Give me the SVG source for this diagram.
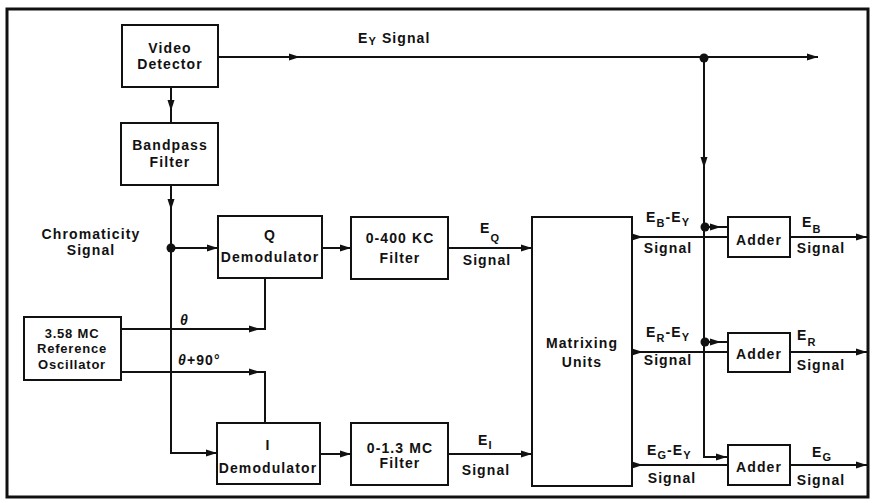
<svg xmlns="http://www.w3.org/2000/svg" width="872" height="503" viewBox="0 0 872 503">
<defs>
<style>
.t{font-family:"Liberation Sans",Arial,sans-serif;font-weight:bold;font-size:14px;letter-spacing:1.1px;fill:#111;text-anchor:middle}
.l{text-anchor:start}
.s{font-size:13px;letter-spacing:0.8px}
.box{fill:#fff;stroke:#111;stroke-width:2}
.c path{fill:none;stroke:#111;stroke-width:2}
.sub{font-size:11px}
</style>
<marker id="a" markerWidth="11" markerHeight="8" refX="11" refY="4" orient="auto" markerUnits="userSpaceOnUse"><path d="M0,0.5 L11,4 L0,7.5 z" fill="#111"/></marker>
</defs>
<rect x="0" y="0" width="872" height="503" fill="#fff"/>
<rect x="7" y="9" width="861" height="488" fill="none" stroke="#111" stroke-width="3"/>

<g class="c" id="connectors">
<path d="M218 57 H300" marker-end="url(#a)"/>
<path d="M300 57 H818" marker-end="url(#a)"/>
<path d="M704 58 V168" marker-end="url(#a)"/>
<path d="M704 168 V457 H727" marker-end="url(#a)"/>
<path d="M171 87 V111" marker-end="url(#a)"/>
<path d="M171 111 V123"/>
<path d="M171 185 V210" marker-end="url(#a)"/>
<path d="M171 210 V453 H217" marker-end="url(#a)"/>
<path d="M171 248 H218" marker-end="url(#a)"/>
<path d="M121 329 H260" marker-end="url(#a)"/>
<path d="M260 329 H265 V278"/>
<path d="M121 372 H260" marker-end="url(#a)"/>
<path d="M260 372 H265 V423"/>
<path d="M322 248 H351" marker-end="url(#a)"/>
<path d="M320 454 H351" marker-end="url(#a)"/>
<path d="M448 248 H532" marker-end="url(#a)"/>
<path d="M448 454 H532" marker-end="url(#a)"/>
<path d="M632 237 H643" marker-end="url(#a)"/>
<path d="M643 237 H728"/>
<path d="M632 352 H643" marker-end="url(#a)"/>
<path d="M643 352 H728"/>
<path d="M632 465 H643" marker-end="url(#a)"/>
<path d="M643 465 H728"/>
<path d="M704 227 H721" marker-end="url(#a)"/>
<path d="M721 227 H728"/>
<path d="M704 342 H721" marker-end="url(#a)"/>
<path d="M721 342 H728"/>
<path d="M790 237 H867" marker-end="url(#a)"/>
<path d="M790 352 H867" marker-end="url(#a)"/>
<path d="M790 465 H867" marker-end="url(#a)"/>
<circle cx="704" cy="58" r="4.5" fill="#111"/>
<circle cx="171" cy="248" r="4.5" fill="#111"/>
<circle cx="705" cy="227" r="4.5" fill="#111"/>
<circle cx="705" cy="342" r="4.5" fill="#111"/>
</g>

<g id="video-detector">
<rect class="box" x="122" y="25" width="96" height="62"/>
<text class="t" x="170" y="53">Video</text>
<text class="t" x="170" y="69">Detector</text>
</g>
<g id="bandpass-filter">
<rect class="box" x="121" y="123" width="97" height="62"/>
<text class="t" x="170" y="150">Bandpass</text>
<text class="t" x="170" y="167">Filter</text>
</g>
<g id="q-demodulator">
<rect class="box" x="218" y="216" width="104" height="62"/>
<text class="t" x="270" y="240">Q</text>
<text class="t" x="270" y="262">Demodulator</text>
</g>
<g id="i-demodulator">
<rect class="box" x="217" y="423" width="103" height="61"/>
<text class="t" x="268" y="450">I</text>
<text class="t" x="268" y="473">Demodulator</text>
</g>
<g id="reference-oscillator">
<rect class="box" x="24" y="317" width="97" height="63"/>
<text class="t s" x="72" y="338">3.58 MC</text>
<text class="t s" x="72" y="353">Reference</text>
<text class="t s" x="72" y="369">Oscillator</text>
</g>
<g id="filter-400kc">
<rect class="box" x="351" y="217" width="97" height="62"/>
<text class="t" x="400" y="243">0-400 KC</text>
<text class="t" x="400" y="263">Filter</text>
</g>
<g id="filter-1-3mc">
<rect class="box" x="351" y="423" width="97" height="62"/>
<text class="t" x="400" y="453">0-1.3 MC</text>
<text class="t" x="400" y="468">Filter</text>
</g>
<g id="matrixing-units">
<rect class="box" x="532" y="217" width="100" height="269"/>
<text class="t" x="582" y="348">Matrixing</text>
<text class="t" x="582" y="367">Units</text>
</g>
<g id="adder-b">
<rect class="box" x="728" y="217" width="62" height="40"/>
<text class="t" x="759" y="245">Adder</text>
</g>
<g id="adder-r">
<rect class="box" x="728" y="333" width="62" height="39"/>
<text class="t" x="759" y="359">Adder</text>
</g>
<g id="adder-g">
<rect class="box" x="728" y="445" width="62" height="40"/>
<text class="t" x="759" y="472">Adder</text>
</g>

<g id="labels">
<text class="t l" x="358" y="43">E<tspan class="sub" dy="2">Y</tspan><tspan dy="-2"> Signal</tspan></text>
<text class="t" x="91" y="239">Chromaticity</text>
<text class="t" x="91" y="255">Signal</text>
<text class="t l" x="180" y="325" font-style="italic">θ</text>
<text class="t l" x="178" y="365"><tspan font-style="italic">θ</tspan>+90°</text>
<text class="t l" x="480" y="233">E<tspan class="sub" dy="9">Q</tspan></text>
<text class="t" x="487" y="265">Signal</text>
<text class="t l" x="478" y="445">E<tspan class="sub" dy="4">I</tspan></text>
<text class="t" x="486" y="475">Signal</text>
<text class="t l" x="646" y="222">E<tspan class="sub" dy="5">B</tspan><tspan dy="-5">-E</tspan><tspan class="sub" dy="4">Y</tspan></text>
<text class="t" x="668" y="253">Signal</text>
<text class="t l" x="802" y="227">E<tspan class="sub" dy="6">B</tspan></text>
<text class="t" x="821" y="253">Signal</text>
<text class="t l" x="646" y="337">E<tspan class="sub" dy="5">R</tspan><tspan dy="-5">-E</tspan><tspan class="sub" dy="4">Y</tspan></text>
<text class="t" x="668" y="365">Signal</text>
<text class="t l" x="797" y="340">E<tspan class="sub" dy="6">R</tspan></text>
<text class="t" x="821" y="370">Signal</text>
<text class="t l" x="647" y="455">E<tspan class="sub" dy="4">G</tspan><tspan dy="-4">-E</tspan><tspan class="sub" dy="4">Y</tspan></text>
<text class="t" x="672" y="483">Signal</text>
<text class="t l" x="812" y="457">E<tspan class="sub" dy="4">G</tspan></text>
<text class="t" x="821" y="485">Signal</text>
</g>
</svg>
